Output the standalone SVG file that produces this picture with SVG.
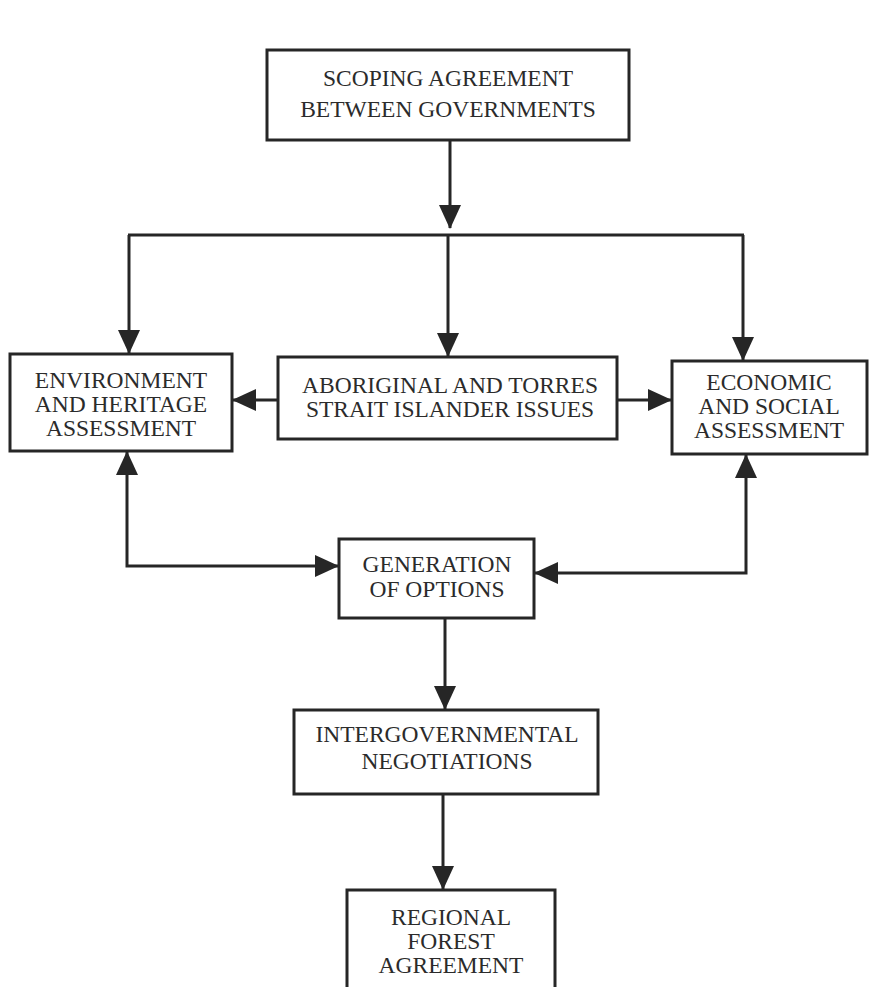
<svg xmlns="http://www.w3.org/2000/svg" width="883" height="987" viewBox="0 0 883 987">
<style>
.box{fill:#fff;stroke:#262626;stroke-width:3}
.lbl{font-family:"Liberation Serif","Times New Roman",serif;font-size:23.5px;fill:#2b2b2b;text-anchor:middle}
.con{fill:none;stroke:#262626;stroke-width:3}
</style>
<defs>
<marker id="ah" markerUnits="userSpaceOnUse" markerWidth="24" markerHeight="22" refX="23" refY="11" orient="auto-start-reverse">
<path d="M0,0 L24,11 L0,22 z" fill="#262626"/>
</marker>
</defs>
<rect width="883" height="987" fill="#fff"/>
<g id="connectors">
<line class="con" x1="450" y1="140" x2="450" y2="228" marker-end="url(#ah)"/>
<line class="con" x1="128" y1="235" x2="744" y2="235"/>
<line class="con" x1="129" y1="235" x2="129" y2="353" marker-end="url(#ah)"/>
<line class="con" x1="448" y1="235" x2="448" y2="356" marker-end="url(#ah)"/>
<line class="con" x1="743" y1="235" x2="743" y2="360" marker-end="url(#ah)"/>
<line class="con" x1="278" y1="400" x2="233" y2="400" marker-end="url(#ah)"/>
<line class="con" x1="617" y1="400" x2="671" y2="400" marker-end="url(#ah)"/>
<polyline class="con" points="127,452 127,566 338,566" marker-start="url(#ah)" marker-end="url(#ah)"/>
<polyline class="con" points="746,455 746,573 535,573" marker-start="url(#ah)" marker-end="url(#ah)"/>
<line class="con" x1="445" y1="618" x2="445" y2="709" marker-end="url(#ah)"/>
<line class="con" x1="443" y1="794" x2="443" y2="889" marker-end="url(#ah)"/>
</g>
<g id="scoping">
<rect class="box" x="267" y="50" width="362" height="90"/>
<text class="lbl" x="448" y="86">SCOPING AGREEMENT</text>
<text class="lbl" x="448" y="117">BETWEEN GOVERNMENTS</text>
</g>
<g id="environment">
<rect class="box" x="10" y="354" width="222" height="97"/>
<text class="lbl" x="121" y="388">ENVIRONMENT</text>
<text class="lbl" x="121" y="412">AND HERITAGE</text>
<text class="lbl" x="121" y="436">ASSESSMENT</text>
</g>
<g id="aboriginal">
<rect class="box" x="278" y="357" width="339" height="82"/>
<text class="lbl" x="450" y="393">ABORIGINAL AND TORRES</text>
<text class="lbl" x="450" y="417">STRAIT ISLANDER ISSUES</text>
</g>
<g id="economic">
<rect class="box" x="672" y="361" width="195" height="93"/>
<text class="lbl" x="769" y="390">ECONOMIC</text>
<text class="lbl" x="769" y="414">AND SOCIAL</text>
<text class="lbl" x="769" y="438">ASSESSMENT</text>
</g>
<g id="generation">
<rect class="box" x="339" y="539" width="195" height="79"/>
<text class="lbl" x="437" y="572">GENERATION</text>
<text class="lbl" x="437" y="597">OF OPTIONS</text>
</g>
<g id="intergovernmental">
<rect class="box" x="294" y="710" width="304" height="84"/>
<text class="lbl" x="447" y="742">INTERGOVERNMENTAL</text>
<text class="lbl" x="447" y="769">NEGOTIATIONS</text>
</g>
<g id="regional">
<rect class="box" x="347" y="890" width="208" height="110"/>
<text class="lbl" x="451" y="925">REGIONAL</text>
<text class="lbl" x="451" y="949">FOREST</text>
<text class="lbl" x="451" y="973">AGREEMENT</text>
</g>
</svg>
